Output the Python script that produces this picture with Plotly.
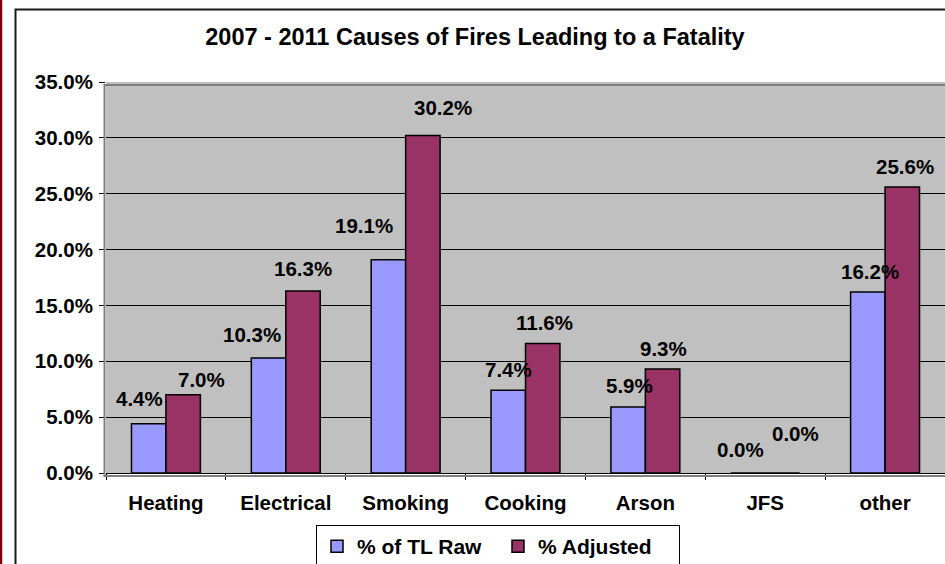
import plotly.graph_objects as go

# ---- data ----
categories = ["Heating", "Electrical", "Smoking", "Cooking", "Arson", "JFS", "other"]
raw_pct = [0.044, 0.103, 0.191, 0.074, 0.059, 0.000, 0.162]
adj_pct = [0.070, 0.163, 0.302, 0.116, 0.093, 0.000, 0.256]
series_names = ["% of TL Raw", "% Adjusted"]
title_text = "2007 - 2011 Causes of Fires Leading to a Fatality"

# ---- style ----
W, H = 945, 564
ML, MR, MT, MB = 106, 0, 82, 91
PW, PH = W - ML - MR, H - MT - MB
BLUE, RED = "#9999FF", "#993366"
FONT = "Liberation Sans, Arial, sans-serif"
BARGAP = 0.425
# label nudges (pixels) relative to the bar centre / default gap
label_dx = [[-9, -17, -24.5, 0, 1, -7.5, 2], [18, 0, 20.5, 2, 1, 13.5, 2.5]]
label_dy = [[4, 2, 13, 0, 1, 2.5, 0], [-6, 1.5, 7.5, 0, 0, 19, 0]]
GAP = 21


def px_x(p):
    return (p - ML) / PW


def px_y(p):
    return (H - MB - p) / PH


fig = go.Figure()
for name, vals, col in [(series_names[0], raw_pct, BLUE), (series_names[1], adj_pct, RED)]:
    fig.add_trace(go.Bar(
        name=name, x=categories, y=vals,
        marker=dict(color=col, line=dict(color="black", width=1.5)),
        hoverinfo="x+y",
    ))

cat_w = PW / len(categories)
half = (1 - BARGAP) * cat_w / 4
annotations = []
for s, vals in enumerate([raw_pct, adj_pct]):
    sign = -1 if s == 0 else 1
    for j, (c, v) in enumerate(zip(categories, vals)):
        annotations.append(dict(
            x=c, y=v, xref="x", yref="y", text=f"{v:.1%}", showarrow=False,
            xshift=sign * half + label_dx[s][j], yshift=GAP + label_dy[s][j],
            yanchor="middle", xanchor="center",
            font=dict(family=FONT, size=20.5, color="black", weight="bold"),
        ))

shapes = [
    # left window edge (dark red)
    dict(type="line", xref="paper", yref="paper", x0=px_x(1), x1=px_x(1),
         y0=px_y(-10), y1=px_y(H + 10), line=dict(color="#800000", width=2.5)),
    # chart area border
    dict(type="rect", xref="paper", yref="paper", x0=px_x(15.5), x1=px_x(W + 20),
         y0=px_y(H + 20), y1=px_y(9.5), line=dict(color="#1a1a1a", width=2)),
    # plot area frame (grey)
    dict(type="rect", xref="paper", yref="paper", x0=px_x(104.5), x1=px_x(W + 20),
         y0=px_y(476), y1=px_y(85), line=dict(color="#808080", width=2)),
]

fig.update_layout(
    width=W, height=H,
    margin=dict(l=ML, r=MR, t=MT, b=MB, pad=0, autoexpand=False),
    paper_bgcolor="white", plot_bgcolor="#C0C0C0",
    barmode="group", bargap=BARGAP, bargroupgap=0,
    title=dict(text=title_text, x=475 / W, xanchor="center", y=1 - 37 / H, yanchor="middle",
               font=dict(family=FONT, size=23.5, color="black", weight="bold")),
    font=dict(family=FONT, color="black"),
    showlegend=True,
    legend=dict(orientation="h", x=px_x(316), xanchor="left", y=px_y(525), yanchor="top",
                bgcolor="white", bordercolor="black", borderwidth=1,
                font=dict(family=FONT, size=21, color="black", weight="bold"),
                itemwidth=30, entrywidth=136, tracegroupgap=0),
    annotations=annotations,
    shapes=shapes,
)
fig.update_yaxes(range=[0, 0.35], dtick=0.05, tickformat=".1%",
                 showgrid=True, gridcolor="black", gridwidth=1,
                 zeroline=False, showline=False,
                 ticks="outside", ticklen=6, tickcolor="black", tickwidth=1,
                 ticklabelstandoff=2,
                 tickfont=dict(family=FONT, size=20.5, color="black", weight="bold"))
fig.update_xaxes(showgrid=False, showline=True, linecolor="black", linewidth=1,
                 ticks="outside", tickson="boundaries", ticklen=6, tickcolor="black",
                 ticklabelstandoff=11,
                 tickfont=dict(family=FONT, size=20.5, color="black", weight="bold"))

# remove the default 8px page margin so the figure sits at the window origin
fig.write_html("out.html", config={"displayModeBar": False},
               post_script="document.body.style.margin='0px';")
